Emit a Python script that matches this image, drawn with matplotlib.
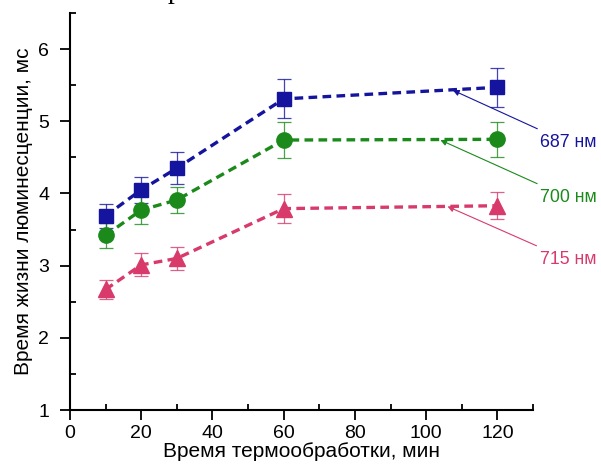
import matplotlib
matplotlib.use("Agg")
import matplotlib.pyplot as plt
from matplotlib.ticker import MultipleLocator

plt.rcParams['font.family'] = ['Liberation Sans', 'DejaVu Sans']

time_min = [10, 20, 30, 60, 120]
series_labels = ["687 нм", "700 нм", "715 нм"]
vals_687 = [3.69, 4.05, 4.35, 5.31, 5.47]
err_687 = [0.17, 0.18, 0.22, 0.27, 0.27]
vals_700 = [3.42, 3.77, 3.91, 4.74, 4.75]
err_700 = [0.17, 0.19, 0.18, 0.25, 0.24]
vals_715 = [2.67, 3.01, 3.10, 3.79, 3.83]
err_715 = [0.13, 0.16, 0.16, 0.20, 0.19]

colors = ["#14149e", "#1b8a1b", "#d83a6c"]
markers = ["s", "o", "^"]
msizes = [10, 11, 11]

# annotation positions (data coords): (arrow head, text)
ann_head = [(107.5, 5.43), (104, 4.74), (106, 3.82)]
ann_text = [(132.0, 4.70), (132.0, 3.94), (132.0, 3.08)]

fig = plt.figure(figsize=(6.01, 4.69), dpi=100)
ax = fig.add_axes([70/601, 1-410/469, (533-70)/601, (410-13)/469])

for vals, errs, c, m, ms in zip([vals_687, vals_700, vals_715],
                                [err_687, err_700, err_715], colors, markers, msizes):
    ax.errorbar(time_min, vals, yerr=errs, fmt='none', ecolor=c, elinewidth=0.9,
                capsize=5, capthick=0.9, alpha=0.8, zorder=2)
    ax.plot(time_min, vals, linestyle=(0, (2.6, 1.6)), color=c, lw=2.4,
            marker=m, markersize=ms, markerfacecolor=c, markeredgecolor=c, zorder=3)

for lab, c, head, txt in zip(series_labels, colors, ann_head, ann_text):
    ax.annotate(lab, xy=head, xytext=txt, color=c, fontsize=12.8,
                ha='left', va='center', annotation_clip=False,
                arrowprops=dict(arrowstyle='-|>', color=c, lw=0.8,
                                mutation_scale=9, shrinkA=5, shrinkB=0))

ax.set_xlim(0, 130)
ax.set_ylim(1, 6.5)
ax.xaxis.set_major_locator(MultipleLocator(20))
ax.xaxis.set_minor_locator(MultipleLocator(10))
ax.yaxis.set_major_locator(MultipleLocator(1))
ax.yaxis.set_minor_locator(MultipleLocator(0.5))
ax.tick_params(which='major', direction='out', length=7, width=1.3, labelsize=14)
ax.tick_params(axis='y', which='major', pad=8)
ax.tick_params(axis='x', which='major', pad=4)
ax.tick_params(which='minor', direction='in', length=4, width=1.3)
ax.spines['top'].set_visible(False)
ax.spines['right'].set_visible(False)
for s in ['left', 'bottom']:
    ax.spines[s].set_linewidth(1.5)

ax.set_xlabel("Время термообработки, мин", fontsize=15, labelpad=0)
ax.set_ylabel("Время жизни люминесценции, мс", fontsize=15, labelpad=4)

# cropped descender of a letter from text above the figure
fig.text(175/601, 1 + 1.5/469, "р", family=['Liberation Serif', 'DejaVu Serif'],
         fontsize=20, ha='center', va='baseline', color='black')

fig.savefig("out.png", dpi=100)
